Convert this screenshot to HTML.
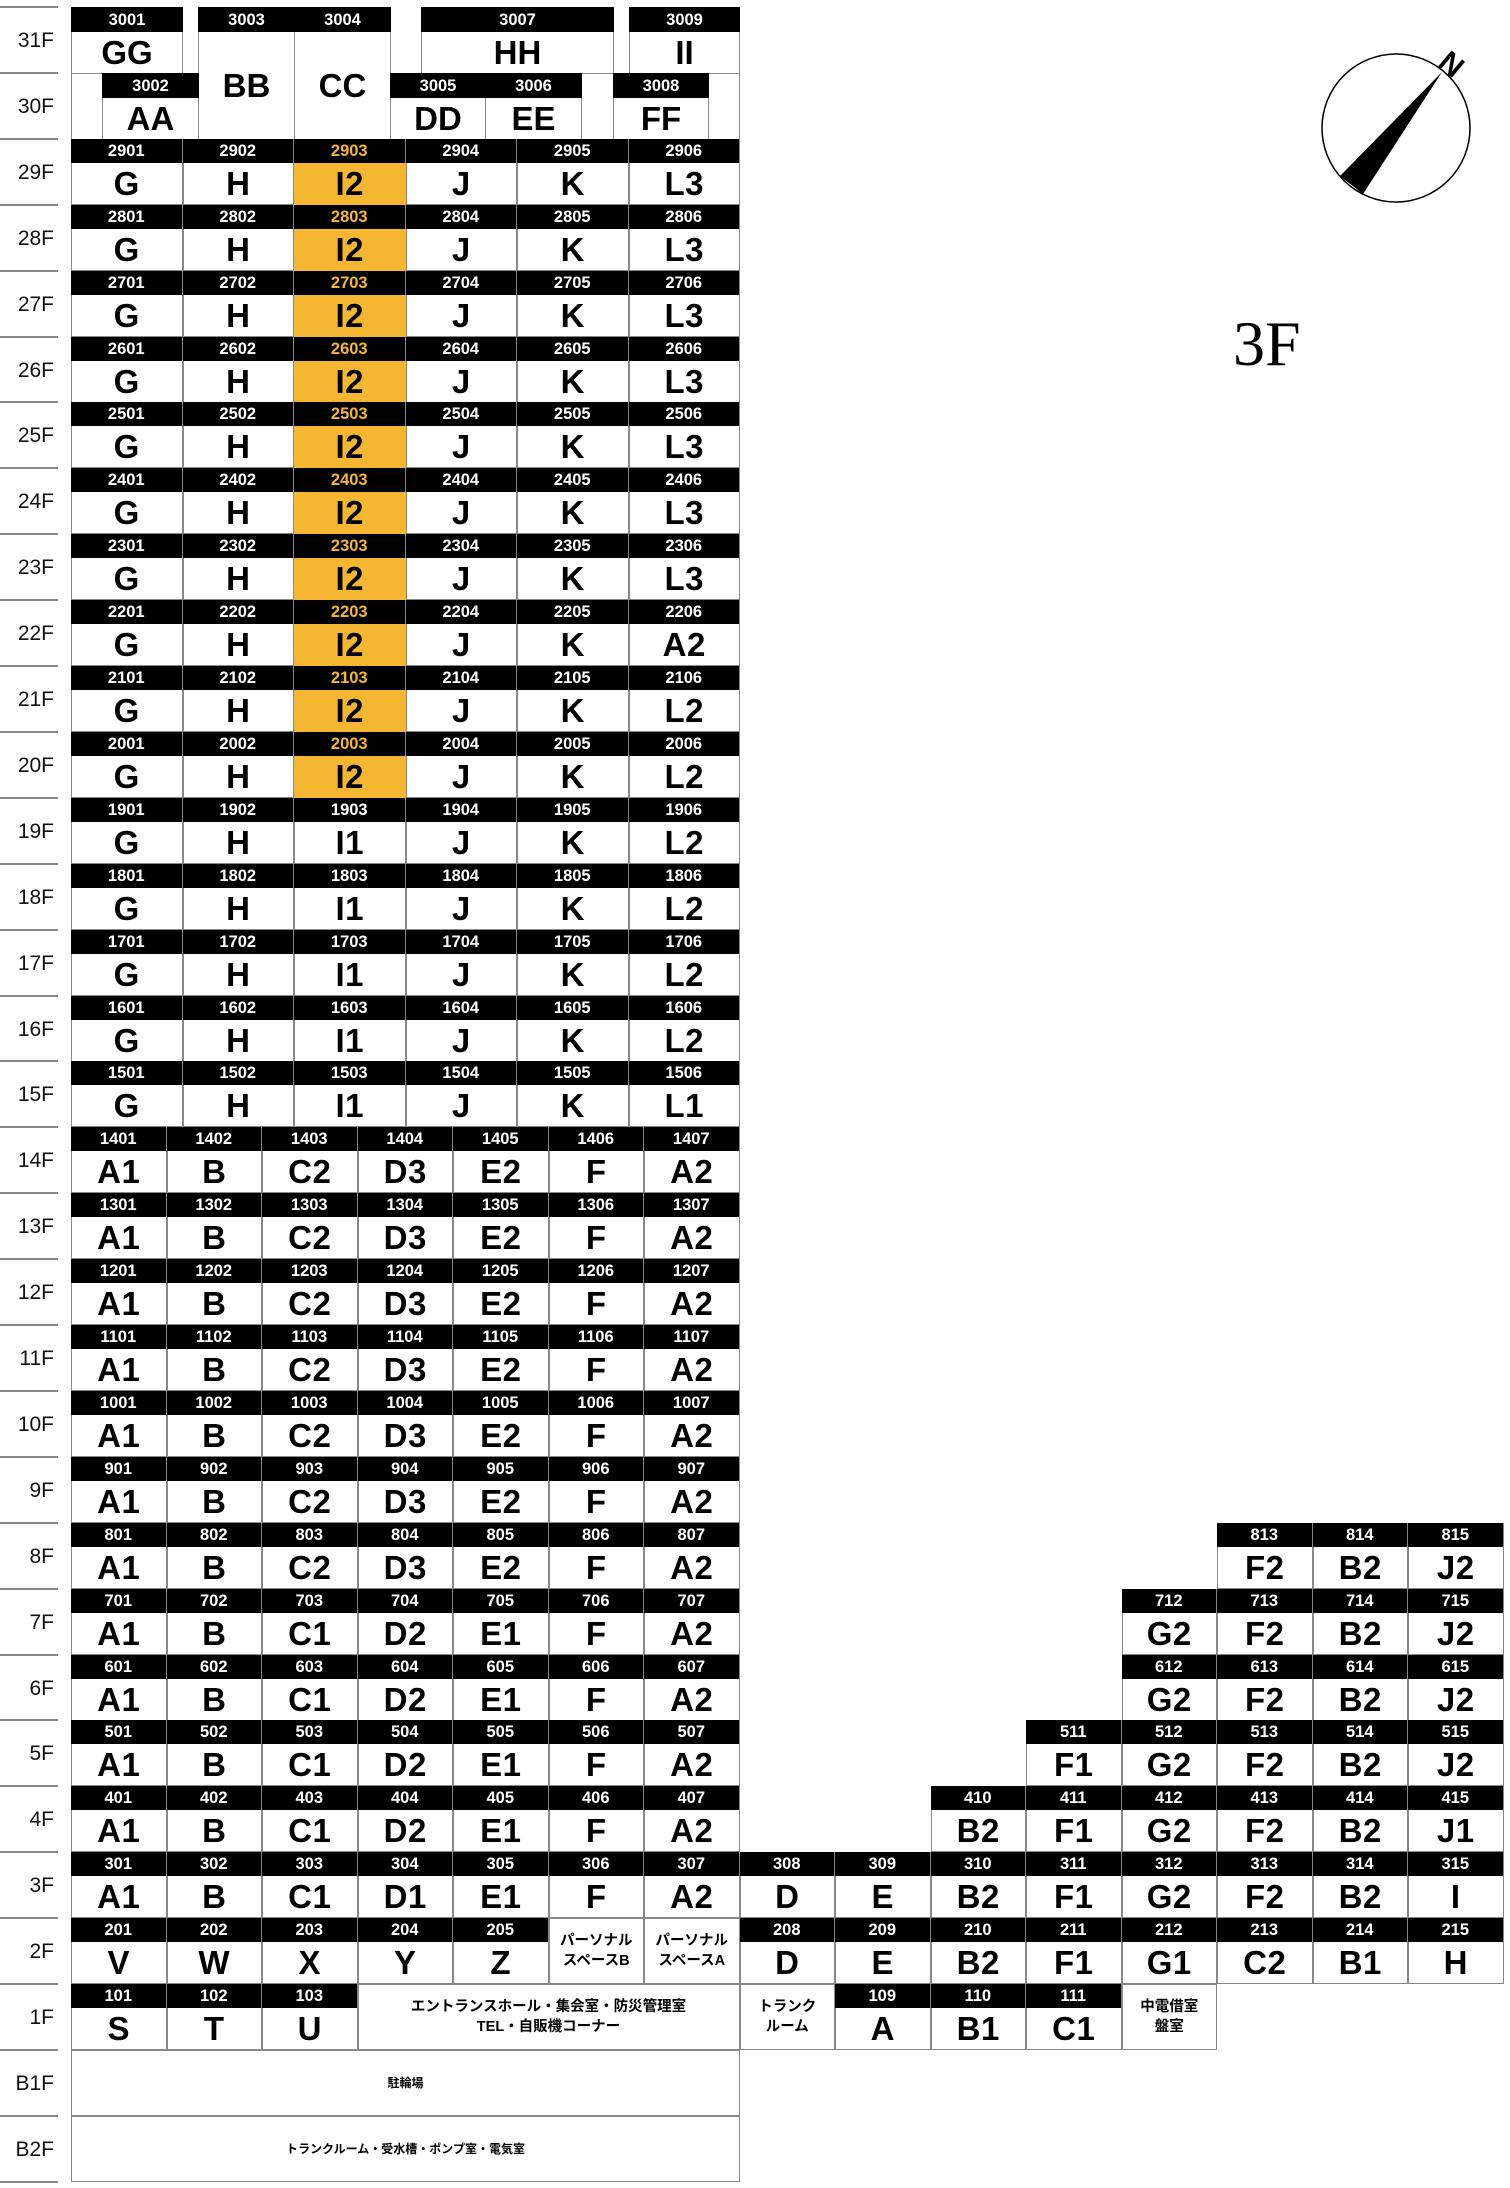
<!DOCTYPE html>
<html><head><meta charset="utf-8"><style>
*{margin:0;padding:0;box-sizing:border-box}
body{width:1510px;height:2188px;background:#fff;position:relative;overflow:hidden;font-family:"Liberation Sans","Noto Sans CJK JP",sans-serif}
.fl{position:absolute;left:0;width:58px;height:66px;border-top:2px solid #888;font-size:21px;color:#111;text-align:right;padding-right:4px;line-height:66px}
.r{position:absolute;left:71px;height:66px;display:flex}
.c{height:66px;box-shadow:inset 0 0 0 1px #888;flex:none;position:relative;background:#fff}
.r6 .c{width:111.5px}
.r7 .c{width:95.5px}
.c b{display:block;height:24px;background:#000;color:#fff;font-size:16.5px;line-height:25px;text-align:center;font-weight:bold;border-right:1px solid #888}
.c i{display:block;font-style:normal;font-weight:bold;font-size:33px;line-height:42px;text-align:center;font-family:"Liberation Sans Narrow","Liberation Sans",sans-serif;letter-spacing:0.5px}
.o b{color:#f5b731}
.o i{background:#f5b731}
.t{display:flex;align-items:center;justify-content:center;text-align:center;font-weight:bold;font-size:14.5px;line-height:20px}
.a{position:absolute;box-shadow:inset 0 0 0 1px #888;background:#fff}
.a b{display:block;height:25px;background:#000;color:#fff;font-size:16.5px;line-height:26px;text-align:center}
.a i{display:flex;align-items:center;justify-content:center;font-style:normal;font-weight:bold;font-size:33px;font-family:"Liberation Sans Narrow","Liberation Sans",sans-serif}
</style></head><body>

<!-- floor labels -->
<div class="fl" style="top:6px">31F</div>
<div class="fl" style="top:72px">30F</div>
<div class="fl" style="top:138px">29F</div>
<div class="fl" style="top:204px">28F</div>
<div class="fl" style="top:270px">27F</div>
<div class="fl" style="top:336px">26F</div>
<div class="fl" style="top:401px">25F</div>
<div class="fl" style="top:467px">24F</div>
<div class="fl" style="top:533px">23F</div>
<div class="fl" style="top:599px">22F</div>
<div class="fl" style="top:665px">21F</div>
<div class="fl" style="top:731px">20F</div>
<div class="fl" style="top:797px">19F</div>
<div class="fl" style="top:863px">18F</div>
<div class="fl" style="top:929px">17F</div>
<div class="fl" style="top:995px">16F</div>
<div class="fl" style="top:1060px">15F</div>
<div class="fl" style="top:1126px">14F</div>
<div class="fl" style="top:1192px">13F</div>
<div class="fl" style="top:1258px">12F</div>
<div class="fl" style="top:1324px">11F</div>
<div class="fl" style="top:1390px">10F</div>
<div class="fl" style="top:1456px">9F</div>
<div class="fl" style="top:1522px">8F</div>
<div class="fl" style="top:1588px">7F</div>
<div class="fl" style="top:1654px">6F</div>
<div class="fl" style="top:1719px">5F</div>
<div class="fl" style="top:1785px">4F</div>
<div class="fl" style="top:1851px">3F</div>
<div class="fl" style="top:1917px">2F</div>
<div class="fl" style="top:1983px">1F</div>
<div class="fl" style="top:2049px">B1F</div>
<div class="fl" style="top:2115px">B2F</div>
<div style="position:absolute;left:0;top:2181px;width:58px;border-top:2px solid #888"></div>

<!-- 31F/30F -->
<div style="position:absolute;left:71px;top:7px;width:1px;height:132px;background:#888"></div>
<div style="position:absolute;left:739px;top:7px;width:1px;height:132px;background:#888"></div>
<div class="a" style="left:71px;top:7px;width:112px;height:67px"><b>3001</b><i style="height:41px">GG</i></div>
<div class="a" style="left:198px;top:7px;width:97px;height:133px"><b>3003</b><i style="height:107px">BB</i></div>
<div class="a" style="left:294px;top:7px;width:97px;height:133px"><b>3004</b><i style="height:107px">CC</i></div>
<div class="a" style="left:421px;top:7px;width:193px;height:67px"><b>3007</b><i style="height:41px">HH</i></div>
<div class="a" style="left:629px;top:7px;width:111px;height:67px"><b>3009</b><i style="height:41px">II</i></div>
<div class="a" style="left:102px;top:73px;width:97px;height:67px"><b>3002</b><i style="height:41px">AA</i></div>
<div class="a" style="left:390px;top:73px;width:96px;height:67px"><b>3005</b><i style="height:41px">DD</i></div>
<div class="a" style="left:485px;top:73px;width:97px;height:67px"><b>3006</b><i style="height:41px">EE</i></div>
<div class="a" style="left:613px;top:73px;width:96px;height:67px"><b>3008</b><i style="height:41px">FF</i></div>

<!-- 29F-15F -->
<div class="r r6" style="top:139px"><div class="c"><b>2901</b><i>G</i></div><div class="c"><b>2902</b><i>H</i></div><div class="c o"><b>2903</b><i>I2</i></div><div class="c"><b>2904</b><i>J</i></div><div class="c"><b>2905</b><i>K</i></div><div class="c"><b>2906</b><i>L3</i></div></div>
<div class="r r6" style="top:205px"><div class="c"><b>2801</b><i>G</i></div><div class="c"><b>2802</b><i>H</i></div><div class="c o"><b>2803</b><i>I2</i></div><div class="c"><b>2804</b><i>J</i></div><div class="c"><b>2805</b><i>K</i></div><div class="c"><b>2806</b><i>L3</i></div></div>
<div class="r r6" style="top:271px"><div class="c"><b>2701</b><i>G</i></div><div class="c"><b>2702</b><i>H</i></div><div class="c o"><b>2703</b><i>I2</i></div><div class="c"><b>2704</b><i>J</i></div><div class="c"><b>2705</b><i>K</i></div><div class="c"><b>2706</b><i>L3</i></div></div>
<div class="r r6" style="top:337px"><div class="c"><b>2601</b><i>G</i></div><div class="c"><b>2602</b><i>H</i></div><div class="c o"><b>2603</b><i>I2</i></div><div class="c"><b>2604</b><i>J</i></div><div class="c"><b>2605</b><i>K</i></div><div class="c"><b>2606</b><i>L3</i></div></div>
<div class="r r6" style="top:402px"><div class="c"><b>2501</b><i>G</i></div><div class="c"><b>2502</b><i>H</i></div><div class="c o"><b>2503</b><i>I2</i></div><div class="c"><b>2504</b><i>J</i></div><div class="c"><b>2505</b><i>K</i></div><div class="c"><b>2506</b><i>L3</i></div></div>
<div class="r r6" style="top:468px"><div class="c"><b>2401</b><i>G</i></div><div class="c"><b>2402</b><i>H</i></div><div class="c o"><b>2403</b><i>I2</i></div><div class="c"><b>2404</b><i>J</i></div><div class="c"><b>2405</b><i>K</i></div><div class="c"><b>2406</b><i>L3</i></div></div>
<div class="r r6" style="top:534px"><div class="c"><b>2301</b><i>G</i></div><div class="c"><b>2302</b><i>H</i></div><div class="c o"><b>2303</b><i>I2</i></div><div class="c"><b>2304</b><i>J</i></div><div class="c"><b>2305</b><i>K</i></div><div class="c"><b>2306</b><i>L3</i></div></div>
<div class="r r6" style="top:600px"><div class="c"><b>2201</b><i>G</i></div><div class="c"><b>2202</b><i>H</i></div><div class="c o"><b>2203</b><i>I2</i></div><div class="c"><b>2204</b><i>J</i></div><div class="c"><b>2205</b><i>K</i></div><div class="c"><b>2206</b><i>A2</i></div></div>
<div class="r r6" style="top:666px"><div class="c"><b>2101</b><i>G</i></div><div class="c"><b>2102</b><i>H</i></div><div class="c o"><b>2103</b><i>I2</i></div><div class="c"><b>2104</b><i>J</i></div><div class="c"><b>2105</b><i>K</i></div><div class="c"><b>2106</b><i>L2</i></div></div>
<div class="r r6" style="top:732px"><div class="c"><b>2001</b><i>G</i></div><div class="c"><b>2002</b><i>H</i></div><div class="c o"><b>2003</b><i>I2</i></div><div class="c"><b>2004</b><i>J</i></div><div class="c"><b>2005</b><i>K</i></div><div class="c"><b>2006</b><i>L2</i></div></div>
<div class="r r6" style="top:798px"><div class="c"><b>1901</b><i>G</i></div><div class="c"><b>1902</b><i>H</i></div><div class="c"><b>1903</b><i>I1</i></div><div class="c"><b>1904</b><i>J</i></div><div class="c"><b>1905</b><i>K</i></div><div class="c"><b>1906</b><i>L2</i></div></div>
<div class="r r6" style="top:864px"><div class="c"><b>1801</b><i>G</i></div><div class="c"><b>1802</b><i>H</i></div><div class="c"><b>1803</b><i>I1</i></div><div class="c"><b>1804</b><i>J</i></div><div class="c"><b>1805</b><i>K</i></div><div class="c"><b>1806</b><i>L2</i></div></div>
<div class="r r6" style="top:930px"><div class="c"><b>1701</b><i>G</i></div><div class="c"><b>1702</b><i>H</i></div><div class="c"><b>1703</b><i>I1</i></div><div class="c"><b>1704</b><i>J</i></div><div class="c"><b>1705</b><i>K</i></div><div class="c"><b>1706</b><i>L2</i></div></div>
<div class="r r6" style="top:996px"><div class="c"><b>1601</b><i>G</i></div><div class="c"><b>1602</b><i>H</i></div><div class="c"><b>1603</b><i>I1</i></div><div class="c"><b>1604</b><i>J</i></div><div class="c"><b>1605</b><i>K</i></div><div class="c"><b>1606</b><i>L2</i></div></div>
<div class="r r6" style="top:1061px"><div class="c"><b>1501</b><i>G</i></div><div class="c"><b>1502</b><i>H</i></div><div class="c"><b>1503</b><i>I1</i></div><div class="c"><b>1504</b><i>J</i></div><div class="c"><b>1505</b><i>K</i></div><div class="c"><b>1506</b><i>L1</i></div></div>

<!-- 14F-8F -->
<div class="r r7" style="top:1127px"><div class="c"><b>1401</b><i>A1</i></div><div class="c"><b>1402</b><i>B</i></div><div class="c"><b>1403</b><i>C2</i></div><div class="c"><b>1404</b><i>D3</i></div><div class="c"><b>1405</b><i>E2</i></div><div class="c"><b>1406</b><i>F</i></div><div class="c"><b>1407</b><i>A2</i></div></div>
<div class="r r7" style="top:1193px"><div class="c"><b>1301</b><i>A1</i></div><div class="c"><b>1302</b><i>B</i></div><div class="c"><b>1303</b><i>C2</i></div><div class="c"><b>1304</b><i>D3</i></div><div class="c"><b>1305</b><i>E2</i></div><div class="c"><b>1306</b><i>F</i></div><div class="c"><b>1307</b><i>A2</i></div></div>
<div class="r r7" style="top:1259px"><div class="c"><b>1201</b><i>A1</i></div><div class="c"><b>1202</b><i>B</i></div><div class="c"><b>1203</b><i>C2</i></div><div class="c"><b>1204</b><i>D3</i></div><div class="c"><b>1205</b><i>E2</i></div><div class="c"><b>1206</b><i>F</i></div><div class="c"><b>1207</b><i>A2</i></div></div>
<div class="r r7" style="top:1325px"><div class="c"><b>1101</b><i>A1</i></div><div class="c"><b>1102</b><i>B</i></div><div class="c"><b>1103</b><i>C2</i></div><div class="c"><b>1104</b><i>D3</i></div><div class="c"><b>1105</b><i>E2</i></div><div class="c"><b>1106</b><i>F</i></div><div class="c"><b>1107</b><i>A2</i></div></div>
<div class="r r7" style="top:1391px"><div class="c"><b>1001</b><i>A1</i></div><div class="c"><b>1002</b><i>B</i></div><div class="c"><b>1003</b><i>C2</i></div><div class="c"><b>1004</b><i>D3</i></div><div class="c"><b>1005</b><i>E2</i></div><div class="c"><b>1006</b><i>F</i></div><div class="c"><b>1007</b><i>A2</i></div></div>
<div class="r r7" style="top:1457px"><div class="c"><b>901</b><i>A1</i></div><div class="c"><b>902</b><i>B</i></div><div class="c"><b>903</b><i>C2</i></div><div class="c"><b>904</b><i>D3</i></div><div class="c"><b>905</b><i>E2</i></div><div class="c"><b>906</b><i>F</i></div><div class="c"><b>907</b><i>A2</i></div></div>
<div class="r r7" style="top:1523px"><div class="c"><b>801</b><i>A1</i></div><div class="c"><b>802</b><i>B</i></div><div class="c"><b>803</b><i>C2</i></div><div class="c"><b>804</b><i>D3</i></div><div class="c"><b>805</b><i>E2</i></div><div class="c"><b>806</b><i>F</i></div><div class="c"><b>807</b><i>A2</i></div></div>
<div class="r r7" style="top:1523px;left:1217px"><div class="c"><b>813</b><i>F2</i></div><div class="c"><b>814</b><i>B2</i></div><div class="c"><b>815</b><i>J2</i></div></div>

<!-- 7F-4F -->
<div class="r r7" style="top:1589px"><div class="c"><b>701</b><i>A1</i></div><div class="c"><b>702</b><i>B</i></div><div class="c"><b>703</b><i>C1</i></div><div class="c"><b>704</b><i>D2</i></div><div class="c"><b>705</b><i>E1</i></div><div class="c"><b>706</b><i>F</i></div><div class="c"><b>707</b><i>A2</i></div></div>
<div class="r r7" style="top:1589px;left:1121.5px"><div class="c"><b>712</b><i>G2</i></div><div class="c"><b>713</b><i>F2</i></div><div class="c"><b>714</b><i>B2</i></div><div class="c"><b>715</b><i>J2</i></div></div>
<div class="r r7" style="top:1655px"><div class="c"><b>601</b><i>A1</i></div><div class="c"><b>602</b><i>B</i></div><div class="c"><b>603</b><i>C1</i></div><div class="c"><b>604</b><i>D2</i></div><div class="c"><b>605</b><i>E1</i></div><div class="c"><b>606</b><i>F</i></div><div class="c"><b>607</b><i>A2</i></div></div>
<div class="r r7" style="top:1655px;left:1121.5px"><div class="c"><b>612</b><i>G2</i></div><div class="c"><b>613</b><i>F2</i></div><div class="c"><b>614</b><i>B2</i></div><div class="c"><b>615</b><i>J2</i></div></div>
<div class="r r7" style="top:1720px"><div class="c"><b>501</b><i>A1</i></div><div class="c"><b>502</b><i>B</i></div><div class="c"><b>503</b><i>C1</i></div><div class="c"><b>504</b><i>D2</i></div><div class="c"><b>505</b><i>E1</i></div><div class="c"><b>506</b><i>F</i></div><div class="c"><b>507</b><i>A2</i></div></div>
<div class="r r7" style="top:1720px;left:1026px"><div class="c"><b>511</b><i>F1</i></div><div class="c"><b>512</b><i>G2</i></div><div class="c"><b>513</b><i>F2</i></div><div class="c"><b>514</b><i>B2</i></div><div class="c"><b>515</b><i>J2</i></div></div>
<div class="r r7" style="top:1786px"><div class="c"><b>401</b><i>A1</i></div><div class="c"><b>402</b><i>B</i></div><div class="c"><b>403</b><i>C1</i></div><div class="c"><b>404</b><i>D2</i></div><div class="c"><b>405</b><i>E1</i></div><div class="c"><b>406</b><i>F</i></div><div class="c"><b>407</b><i>A2</i></div></div>
<div class="r r7" style="top:1786px;left:930.5px"><div class="c"><b>410</b><i>B2</i></div><div class="c"><b>411</b><i>F1</i></div><div class="c"><b>412</b><i>G2</i></div><div class="c"><b>413</b><i>F2</i></div><div class="c"><b>414</b><i>B2</i></div><div class="c"><b>415</b><i>J1</i></div></div>

<!-- 3F -->
<div class="r r7" style="top:1852px"><div class="c"><b>301</b><i>A1</i></div><div class="c"><b>302</b><i>B</i></div><div class="c"><b>303</b><i>C1</i></div><div class="c"><b>304</b><i>D1</i></div><div class="c"><b>305</b><i>E1</i></div><div class="c"><b>306</b><i>F</i></div><div class="c"><b>307</b><i>A2</i></div><div class="c"><b>308</b><i>D</i></div><div class="c"><b>309</b><i>E</i></div><div class="c"><b>310</b><i>B2</i></div><div class="c"><b>311</b><i>F1</i></div><div class="c"><b>312</b><i>G2</i></div><div class="c"><b>313</b><i>F2</i></div><div class="c"><b>314</b><i>B2</i></div><div class="c"><b>315</b><i>I</i></div></div>

<!-- 2F -->
<div class="r r7" style="top:1918px"><div class="c"><b>201</b><i>V</i></div><div class="c"><b>202</b><i>W</i></div><div class="c"><b>203</b><i>X</i></div><div class="c"><b>204</b><i>Y</i></div><div class="c"><b>205</b><i>Z</i></div><div class="c t">パーソナル<br>スペースB</div><div class="c t">パーソナル<br>スペースA</div><div class="c"><b>208</b><i>D</i></div><div class="c"><b>209</b><i>E</i></div><div class="c"><b>210</b><i>B2</i></div><div class="c"><b>211</b><i>F1</i></div><div class="c"><b>212</b><i>G1</i></div><div class="c"><b>213</b><i>C2</i></div><div class="c"><b>214</b><i>B1</i></div><div class="c"><b>215</b><i>H</i></div></div>

<!-- 1F -->
<div class="r r7" style="top:1984px"><div class="c"><b>101</b><i>S</i></div><div class="c"><b>102</b><i>T</i></div><div class="c"><b>103</b><i>U</i></div><div class="c t" style="width:382px">エントランスホール・集会室・防災管理室<br>TEL・自販機コーナー</div><div class="c t">トランク<br>ルーム</div><div class="c"><b>109</b><i>A</i></div><div class="c"><b>110</b><i>B1</i></div><div class="c"><b>111</b><i>C1</i></div><div class="c t">中電借室<br>盤室</div></div>

<!-- B1F B2F -->
<div class="r" style="top:2050px"><div class="c t" style="width:669px;font-size:12px">駐輪場</div></div>
<div class="r" style="top:2116px"><div class="c t" style="width:669px;font-size:12px">トランクルーム・受水槽・ポンプ室・電気室</div></div>

<!-- compass -->
<svg style="position:absolute;left:0;top:0" width="1510" height="400">
<circle cx="1396" cy="128" r="74" fill="none" stroke="#000" stroke-width="1.5"/>
<polygon points="1442,72 1340,176 1363,194" fill="#000"/>
<text x="0" y="0" font-family="Liberation Sans" font-size="30" font-weight="bold" transform="translate(1445,72) rotate(40)" text-anchor="middle">N</text>
<text x="1233" y="365" font-family="Liberation Serif" font-size="64">3F</text>
</svg>
</body></html>
